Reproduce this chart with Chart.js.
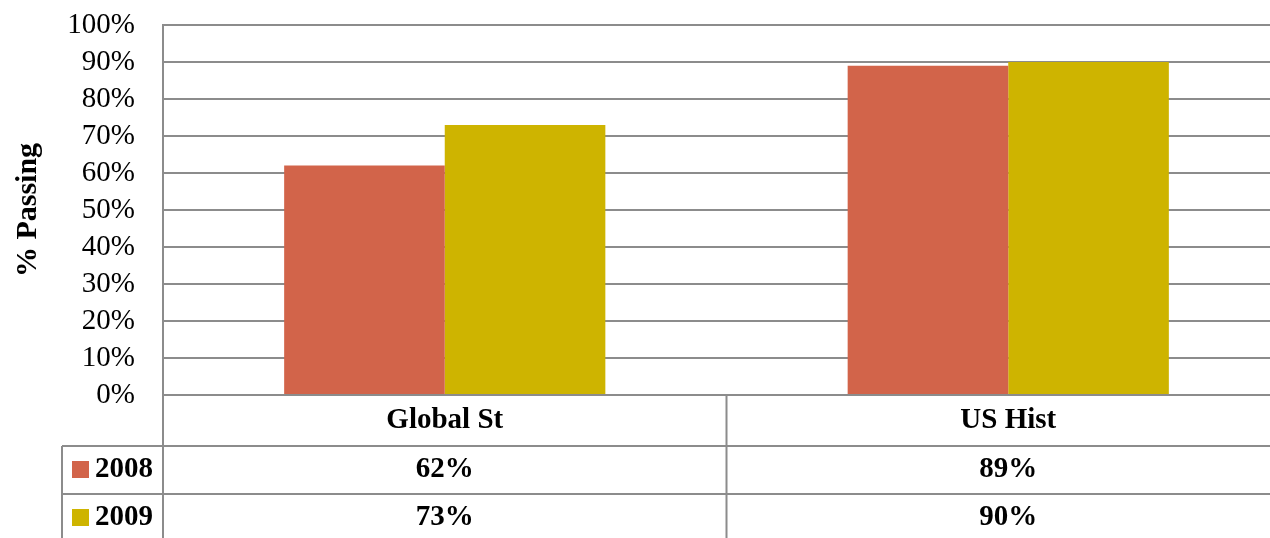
<!DOCTYPE html>
<html>
<head>
<meta charset="utf-8">
<script src="https://cdn.jsdelivr.net/npm/chart.js@4"></script>
<style>
  html, body { margin: 0; padding: 0; background: #fff; overflow: hidden; }
  #wrap { position: relative; width: 1290px; height: 538px; }
</style>
</head>
<body>
<div id="wrap"><canvas id="chart"></canvas></div>
<script>
const cats = ['Global St', 'US Hist'];
const years = ['2008', '2009'];
const pass2008 = [62, 89];
const pass2009 = [73, 90];
const yTicks = [0, 10, 20, 30, 40, 50, 60, 70, 80, 90, 100];
const barColors = ['#D2644A', '#CEB400'];

const serif = '"Liberation Serif", "Times New Roman", serif';
const lineColor = '#8c8c8c';

// table rows under the plot, drawn from the same arrays
const dataTable = {
    id: 'dataTable',
    afterDraw(chart) {
        const { ctx, chartArea, scales } = chart;
        const x = scales.x;
        const catW = x.width / cats.length;
        const top = chartArea.bottom;
        const headH = 51, rowH = 48;
        const legLeft = 62;
        const right = chart.width;

        ctx.save();
        ctx.strokeStyle = lineColor;
        ctx.lineWidth = 2;
        ctx.beginPath();
        // horizontal row lines
        for (let r = 0; r < years.length; r++) {
            const yy = top + headH + r * rowH;
            ctx.moveTo(legLeft, yy);
            ctx.lineTo(right, yy);
        }
        // legend box left edge
        ctx.moveTo(legLeft, top + headH);
        ctx.lineTo(legLeft, chart.height);
        // category separators
        for (let i = 0; i <= cats.length; i++) {
            const xx = x.left + i * catW;
            if (xx > right) continue;
            ctx.moveTo(xx, top);
            ctx.lineTo(xx, chart.height);
        }
        ctx.stroke();

        ctx.fillStyle = '#000';
        ctx.font = 'bold 29px ' + serif;
        ctx.textAlign = 'center';
        ctx.textBaseline = 'middle';
        cats.forEach((c, i) => {
            ctx.fillText(c, x.getPixelForValue(i), top + headH / 2);
        });

        chart.data.datasets.forEach((ds, r) => {
            const cy = top + headH + r * rowH + rowH / 2;
            ctx.fillStyle = ds.backgroundColor;
            ctx.fillRect(legLeft + 10, cy - 9, 17, 17);
            ctx.fillStyle = '#000';
            ctx.textAlign = 'left';
            ctx.fillText(ds.label, legLeft + 33, cy);
            ctx.textAlign = 'center';
            ds.data.forEach((v, i) => {
                ctx.fillText(v + '%', x.getPixelForValue(i), cy);
            });
        });
        ctx.restore();
    }
};

new Chart(document.getElementById('chart'), {
    type: 'bar',
    data: {
        labels: cats,
        datasets: [
            { label: years[0], data: pass2008, backgroundColor: barColors[0], borderWidth: 0 },
            { label: years[1], data: pass2009, backgroundColor: barColors[1], borderWidth: 0 }
        ]
    },
    options: {
        responsive: true,
        maintainAspectRatio: false,
        animation: false,
        categoryPercentage: 0.57,
        barPercentage: 1.0,
        layout: { padding: { top: 25, bottom: 143, left: 0, right: 0 } },
        plugins: {
            legend: { display: false },
            tooltip: { enabled: false }
        },
        scales: {
            x: { display: false },
            y: {
                min: 0,
                max: 100,
                afterBuildTicks: (s) => { s.ticks = yTicks.map(v => ({ value: v })); },
                afterFit: (s) => { s.width = 163; },
                ticks: {
                    color: '#000',
                    padding: 2,
                    font: { family: serif, size: 29, lineHeight: 1 },
                    callback: (v) => v + '%'
                },
                grid: {
                    color: lineColor,
                    lineWidth: 2,
                    drawTicks: true,
                    tickLength: 26,
                    tickColor: 'rgba(0,0,0,0)'
                },
                border: { display: true, color: lineColor, width: 2 },
                title: {
                    display: true,
                    text: '% Passing',
                    color: '#000',
                    font: { family: serif, size: 30, weight: 'bold' },
                    padding: { top: 10, bottom: 0 }
                }
            }
        }
    },
    plugins: [dataTable]
});
</script>
</body>
</html>
